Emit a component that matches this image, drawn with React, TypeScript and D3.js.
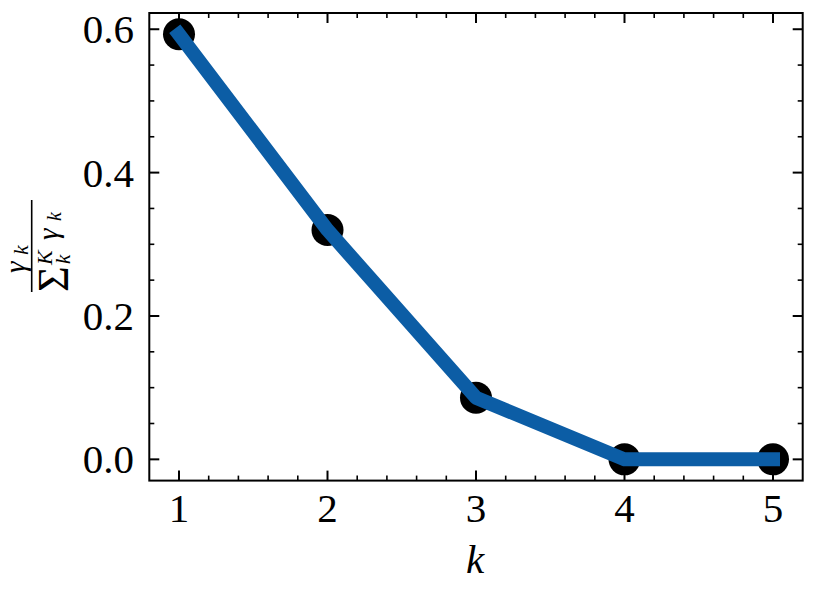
import React, { useEffect, useRef } from 'react';
import * as d3 from 'd3';

const kValues = [1, 2, 3, 4, 5];
const ratios = [0.593, 0.32, 0.086, 0.0, 0.0];
const xTicks = [1, 2, 3, 4, 5];
const yTicks = [0.0, 0.2, 0.4, 0.6];

const App = () => {
  const ref = useRef<SVGSVGElement>(null);

  useEffect(() => {
    const svg = d3.select(ref.current);
    svg.selectAll('*').remove();

    const left = 149.3;
    const right = 802.7;
    const top = 13;
    const bottom = 480.6;
    const font = 'Liberation Serif, DejaVu Serif, serif';

    const x = d3.scaleLinear().domain([0.8, 5.2]).range([left, right]);
    const y = d3.scaleLinear().domain([-0.02965, 0.62265]).range([bottom, top]);

    const data = kValues.map((k, i) => ({ k, v: ratios[i] }));

    // markers first, line drawn over them
    svg
      .append('g')
      .selectAll('circle')
      .data(data)
      .enter()
      .append('circle')
      .attr('cx', (d) => x(d.k))
      .attr('cy', (d) => y(d.v))
      .attr('r', 16)
      .attr('fill', '#000');

    const line = d3
      .line<{ k: number; v: number }>()
      .x((d) => x(d.k))
      .y((d) => y(d.v));

    svg
      .append('path')
      .datum(data)
      .attr('fill', 'none')
      .attr('stroke', '#0C5DA5')
      .attr('stroke-width', 14)
      .attr('stroke-linecap', 'square')
      .attr('stroke-linejoin', 'round')
      .attr('d', line);

    // ticks on all four sides, pointing in
    const ticks = svg.append('g').attr('stroke', '#000');
    const xMinor = d3.range(1.2, 5.2, 0.2).filter((t) => Math.abs(t - Math.round(t)) > 1e-6);
    const yMinor = d3.range(-0.0, 0.62, 0.05).filter((t) => Math.abs(t * 5 - Math.round(t * 5)) > 1e-6);

    xTicks.forEach((t) => {
      ticks.append('line').attr('x1', x(t)).attr('x2', x(t)).attr('y1', bottom).attr('y2', bottom - 10).attr('stroke-width', 2);
      ticks.append('line').attr('x1', x(t)).attr('x2', x(t)).attr('y1', top).attr('y2', top + 10).attr('stroke-width', 2);
    });
    xMinor.forEach((t) => {
      ticks.append('line').attr('x1', x(t)).attr('x2', x(t)).attr('y1', bottom).attr('y2', bottom - 5).attr('stroke-width', 1.6);
      ticks.append('line').attr('x1', x(t)).attr('x2', x(t)).attr('y1', top).attr('y2', top + 5).attr('stroke-width', 1.6);
    });
    yTicks.forEach((t) => {
      ticks.append('line').attr('y1', y(t)).attr('y2', y(t)).attr('x1', left).attr('x2', left + 10).attr('stroke-width', 2);
      ticks.append('line').attr('y1', y(t)).attr('y2', y(t)).attr('x1', right).attr('x2', right - 10).attr('stroke-width', 2);
    });
    yMinor.forEach((t) => {
      ticks.append('line').attr('y1', y(t)).attr('y2', y(t)).attr('x1', left).attr('x2', left + 5).attr('stroke-width', 1.6);
      ticks.append('line').attr('y1', y(t)).attr('y2', y(t)).attr('x1', right).attr('x2', right - 5).attr('stroke-width', 1.6);
    });

    svg
      .append('rect')
      .attr('x', left)
      .attr('y', top)
      .attr('width', right - left)
      .attr('height', bottom - top)
      .attr('fill', 'none')
      .attr('stroke', '#000')
      .attr('stroke-width', 2);

    // tick labels
    svg
      .append('g')
      .selectAll('text')
      .data(xTicks)
      .enter()
      .append('text')
      .attr('x', (d) => x(d))
      .attr('y', 522)
      .attr('text-anchor', 'middle')
      .attr('font-family', font)
      .attr('font-size', 41)
      .text((d) => d3.format('d')(d));

    svg
      .append('g')
      .selectAll('text')
      .data(yTicks)
      .enter()
      .append('text')
      .attr('x', 134)
      .attr('y', (d) => y(d) + 14)
      .attr('text-anchor', 'end')
      .attr('font-family', font)
      .attr('font-size', 41)
      .text((d) => d3.format('.1f')(d));

    // x label
    svg
      .append('text')
      .attr('x', 475)
      .attr('y', 573)
      .attr('text-anchor', 'middle')
      .attr('font-family', font)
      .attr('font-style', 'italic')
      .attr('font-size', 41)
      .text('k');

    // y label: gamma_k / sum_k^K gamma_k, rotated
    const lab = svg
      .append('g')
      .attr('transform', 'translate(31.7,246) rotate(-90)')
      .attr('font-family', font)
      .attr('font-style', 'italic');
    lab.append('line').attr('x1', -46).attr('x2', 46).attr('y1', 0).attr('y2', 0).attr('stroke', '#000').attr('stroke-width', 1.6);
    const put = (s: string, px: number, py: number, size: number, italic = true) =>
      lab
        .append('text')
        .attr('x', px)
        .attr('y', py)
        .attr('font-size', size)
        .attr('font-style', italic ? 'italic' : 'normal')
        .text(s);
    put('γ', -27, -7, 29);
    put('k', -9, -4, 22);
    put('Σ', -46, 36, 44, false);
    put('K', -19, 20, 22);
    put('k', -18, 38, 21);
    put('γ', 6, 26, 29);
    put('k', 25, 29, 20);
  }, []);

  return (
    <svg
      ref={ref}
      width={815}
      height={594}
      style={{ position: 'absolute', left: 0, top: 0, background: '#fff' }}
    />
  );
};

export default App;
